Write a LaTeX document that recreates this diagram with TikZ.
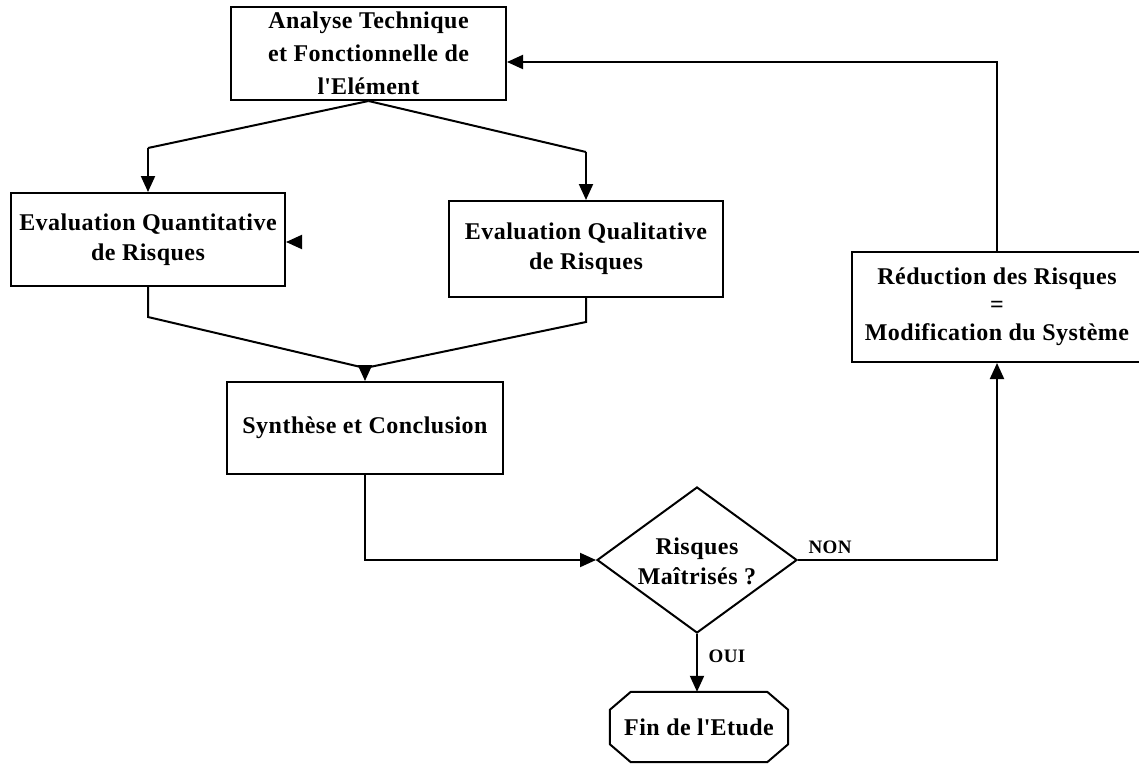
\documentclass[tikz,border=0pt]{standalone}
\usepackage{fontspec}
\setmainfont{Liberation Serif}[LetterSpace=2]
\usetikzlibrary{arrows.meta,shapes.geometric}

\begin{document}
\begin{tikzpicture}[x=1pt,y=-1pt,
  txt/.style={font=\fontsize{24}{30}\selectfont\bfseries, align=center, inner sep=0pt},
  box/.style={txt, draw, line width=2pt},
  lbl/.style={font=\fontsize{19}{22}\selectfont\bfseries, inner sep=0pt},
  link/.style={line width=2pt},
  arr/.style={link, -{Triangle[length=16pt,width=14pt]}}
]
\clip (0,0) rectangle (1139,765);
\fill[white] (0,0) rectangle (1139,765);

% process boxes
\node[box, minimum width=275pt, minimum height=93pt,
      font=\fontsize{24}{33}\selectfont\bfseries] (A) at (368.5,53.5)
  {Analyse Technique\\et Fonctionnelle de\\l\textquotesingle Elément};
\node[box, minimum width=274pt, minimum height=93pt] (Q1) at (148,239.5)
  {Evaluation Quantitative\\de Risques};
\node[box, minimum width=274pt, minimum height=96pt] (Q2) at (586,249)
  {Evaluation Qualitative\\de Risques};
\node[box, minimum width=276pt, minimum height=92pt] (S) at (365,428)
  {Synthèse et Conclusion};
\node[box, minimum width=290pt, minimum height=110pt] (R) at (997,307)
  {Réduction des Risques\\[-2pt]=\\[-2pt]Modification du Système};

% decision
\node[draw, line width=2pt, diamond, inner sep=0pt,
      minimum width=200pt, minimum height=146pt] (D) at (697,560) {};
\node[txt] (Dt) at (697,561) {Risques\\Maîtrisés ?};

% terminal: octagon with cut corners
\node[txt, minimum width=178pt, minimum height=70pt] (F) at (699,727)
  {Fin de l\textquotesingle Etude};
\draw[line width=2pt, line join=round]
  ([xshift=21pt]F.north west) -- ([xshift=-21pt]F.north east)
  -- ([yshift=-18pt]F.north east) -- ([yshift=18pt]F.south east)
  -- ([xshift=-21pt]F.south east) -- ([xshift=21pt]F.south west)
  -- ([yshift=18pt]F.south west) -- ([yshift=-18pt]F.north west) -- cycle;

% branch points
\coordinate (aL) at (148,148);
\coordinate (aR) at (586,152);
\coordinate (bL) at (148,317);
\coordinate (bR) at (586,322);
\coordinate (m) at (365,368);

% connectors
\draw[link] (A.south) -- (aL);
\draw[arr] (aL) -- (Q1.north);
\draw[link] (A.south) -- (aR);
\draw[arr] (aR) -- (Q2.north);
\draw[link] (Q1.south) -- (bL) -- (m);
\draw[link] (Q2.south) -- (bR) -- (m);
\draw[arr] (m) -- (S.north);
\draw[arr] (S.south) |- (D.west);
\draw[arr] (D.south) -- (D.south |- F.north);
\draw[arr] (D.east) -| (R.south);
\draw[arr] (R.north) |- ([yshift=-8.5pt]A.east);
\draw[arr] ([xshift=15pt,yshift=-2.5pt]Q1.east) -- ([yshift=-2.5pt]Q1.east);

% branch labels
\node[lbl] (non) at (830,547) {NON};
\node[lbl] (oui) at (727,656) {OUI};
\end{tikzpicture}
\end{document}
